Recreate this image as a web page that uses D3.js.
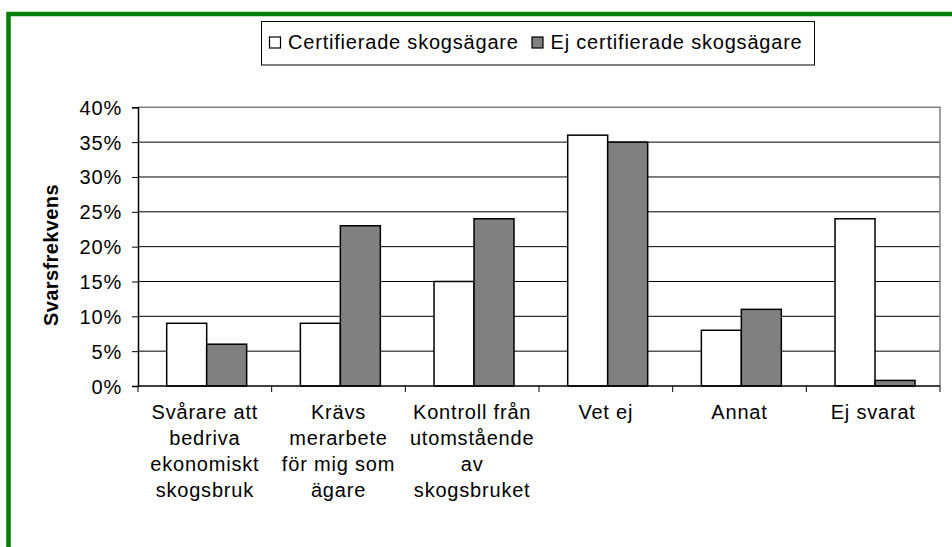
<!DOCTYPE html>
<html>
<head>
<meta charset="utf-8">
<script src="https://cdn.jsdelivr.net/npm/d3@7"></script>
<style>
  body { margin: 0; background: #fff; }
  text { font-family: "Liberation Sans", Arial, sans-serif; fill: #000; }
</style>
</head>
<body>
<div id="chart"></div>
<script>
// Data
var categories = ["Svårare att bedriva ekonomiskt skogsbruk", "Krävs merarbete för mig som ägare",
    "Kontroll från utomstående av skogsbruket", "Vet ej", "Annat", "Ej svarat"];
var categoryLines = [
    ["Svårare att", "bedriva", "ekonomiskt", "skogsbruk"],
    ["Krävs", "merarbete", "för mig som", "ägare"],
    ["Kontroll från", "utomstående", "av", "skogsbruket"],
    ["Vet ej"],
    ["Annat"],
    ["Ej svarat"]
];
var seriesNames = ["Certifierade skogsägare", "Ej certifierade skogsägare"];
var certifierade = [9, 9, 15, 36, 8, 24];
var ejCertifierade = [6, 23, 24, 35, 11, 0.8];
var yTicks = [0, 5, 10, 15, 20, 25, 30, 35, 40];

var width = 952, height = 547;
var plot = { left: 138, right: 940, top: 107.3, bottom: 386 };
var colors = ["#ffffff", "#808080"];

var svg = d3.select("#chart").append("svg")
    .attr("width", width)
    .attr("height", height);

// green frame (only top and left visible)
svg.append("path")
    .attr("d", "M8.5," + height + "V14H" + width)
    .attr("fill", "none")
    .attr("stroke", "#008000")
    .attr("stroke-width", 4.5);

var x0 = d3.scaleBand()
    .domain(categories)
    .range([plot.left, plot.right])
    .padding(0);

var x1 = d3.scaleBand()
    .domain(seriesNames)
    .range([28.7, x0.bandwidth() - 25])
    .padding(0);

var y = d3.scaleLinear()
    .domain([0, 40])
    .range([plot.bottom, plot.top]);

// gridlines
svg.append("g")
    .selectAll("line")
    .data(yTicks.slice(1, -1))
    .enter().append("line")
    .attr("x1", plot.left).attr("x2", plot.right)
    .attr("y1", function (d) { return y(d); })
    .attr("y2", function (d) { return y(d); })
    .attr("stroke", "#000")
    .attr("stroke-width", 1);

// plot border top and right in gray
svg.append("path")
    .attr("d", "M" + plot.left + "," + y(40) + "H" + plot.right + "V" + plot.bottom)
    .attr("fill", "none")
    .attr("stroke", "#808080")
    .attr("stroke-width", 1.5);

// bars
var rows = categories.map(function (c, i) {
    return { cat: c, values: [certifierade[i], ejCertifierade[i]] };
});

var groups = svg.append("g").selectAll("g")
    .data(rows)
    .enter().append("g")
    .attr("transform", function (d) { return "translate(" + x0(d.cat) + ",0)"; });

groups.selectAll("rect")
    .data(function (d) { return d.values.map(function (v, i) { return { key: seriesNames[i], value: v, i: i }; }); })
    .enter().append("rect")
    .attr("x", function (d) { return x1(d.key); })
    .attr("y", function (d) { return y(d.value); })
    .attr("width", x1.bandwidth())
    .attr("height", function (d) { return y(0) - y(d.value); })
    .attr("fill", function (d) { return colors[d.i]; })
    .attr("stroke", "#000")
    .attr("stroke-width", 1.5);

// y axis
var yAxis = d3.axisLeft(y)
    .tickValues(yTicks)
    .tickSize(6)
    .tickPadding(10)
    .tickFormat(function (d) { return d + "%"; });

var yg = svg.append("g")
    .attr("transform", "translate(" + plot.left + ",0)")
    .call(yAxis);
yg.select(".domain").attr("stroke", "#000").attr("stroke-width", 1.5);
yg.selectAll(".tick line").attr("stroke", "#000");
yg.selectAll(".tick text")
    .attr("font-family", "Liberation Sans, Arial, sans-serif")
    .style("font-size", "20px")
    .style("letter-spacing", "0.8px")
    .attr("dy", "0.35em");

// x axis (ticks between categories)
var boundaries = categories.map(function (c) { return x0(c); }).concat([plot.right]);
svg.append("line")
    .attr("x1", plot.left).attr("x2", plot.right)
    .attr("y1", plot.bottom).attr("y2", plot.bottom)
    .attr("stroke", "#000")
    .attr("stroke-width", 1.5);
svg.append("g").selectAll("line")
    .data(boundaries)
    .enter().append("line")
    .attr("x1", function (d) { return d; })
    .attr("x2", function (d) { return d; })
    .attr("y1", plot.bottom)
    .attr("y2", plot.bottom + 6)
    .attr("stroke", "#000");

// category labels
var labels = svg.append("g").selectAll("text")
    .data(categories)
    .enter().append("text")
    .attr("text-anchor", "middle")
    .attr("x", function (d) { return x0(d) + x0.bandwidth() / 2; })
    .attr("y", 419)
    .style("font-size", "20px")
    .style("letter-spacing", "0.8px");

labels.selectAll("tspan")
    .data(function (d, i) { return categoryLines[i]; })
    .enter().append("tspan")
    .attr("x", function () { return d3.select(this.parentNode).attr("x"); })
    .attr("dy", function (d, i) { return i === 0 ? 0 : 26; })
    .text(function (d) { return d; });

// y axis title
svg.append("text")
    .attr("transform", "translate(58,255) rotate(-90)")
    .attr("text-anchor", "middle")
    .style("font-size", "20px")
    .style("font-weight", "bold")
    .style("letter-spacing", "0.4px")
    .text("Svarsfrekvens");

// legend
var legend = svg.append("g");
legend.append("rect")
    .attr("x", 261.5).attr("y", 21.5)
    .attr("width", 553).attr("height", 43.5)
    .attr("fill", "#fff")
    .attr("stroke", "#000")
    .attr("stroke-width", 1);

var legendX = [269, 531.5];
var items = legend.selectAll("g.item")
    .data(seriesNames)
    .enter().append("g")
    .attr("class", "item")
    .attr("transform", function (d, i) { return "translate(" + legendX[i] + ",0)"; });

items.append("rect")
    .attr("x", 0.5).attr("y", 37)
    .attr("width", 11).attr("height", 11)
    .attr("fill", function (d, i) { return colors[i]; })
    .attr("stroke", "#000")
    .attr("stroke-width", 1.2);

items.append("text")
    .attr("x", 19)
    .attr("y", 49)
    .style("font-size", "20px")
    .style("letter-spacing", "0.8px")
    .text(function (d) { return d; });
</script>
</body>
</html>
